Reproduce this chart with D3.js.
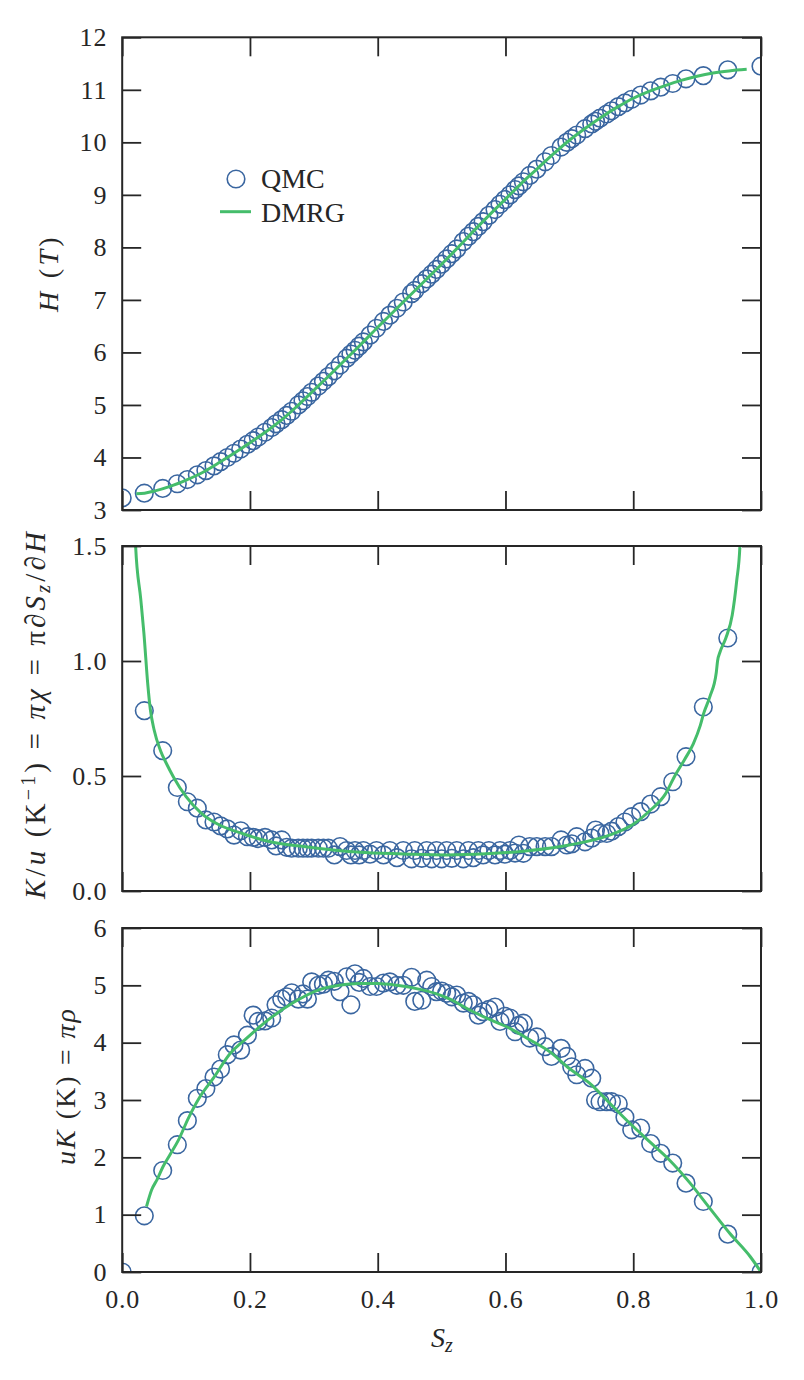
<!DOCTYPE html>
<html><head><meta charset="utf-8">
<script src="https://cdnjs.cloudflare.com/ajax/libs/d3/7.8.5/d3.min.js"></script>
<style>body{margin:0;background:#fff}</style>
</head><body><svg id="c" width="804" height="1380"></svg>
<script>
// ---------- data ----------
const qmcSz = [0,0.0346,0.0634,0.0863,0.102,0.1176,0.131,0.1437,0.154,0.1645,0.175,0.1855,0.196,0.205,0.213,0.2235,0.234,0.2408,0.2497,0.2575,0.2653,0.2757,0.283,0.29,0.2966,0.307,0.315,0.3227,0.332,0.341,0.3514,0.358,0.3644,0.371,0.3775,0.388,0.398,0.409,0.419,0.43,0.44,0.453,0.458,0.469,0.4767,0.4845,0.492,0.5,0.508,0.516,0.5237,0.534,0.542,0.5496,0.5575,0.565,0.574,0.5836,0.5914,0.599,0.607,0.615,0.621,0.628,0.638,0.649,0.662,0.672,0.687,0.696,0.7037,0.7115,0.7245,0.735,0.741,0.748,0.7585,0.766,0.7766,0.787,0.7976,0.8117,0.8273,0.843,0.8618,0.8826,0.9097,0.948,1.0];
const qmcH = [3.23,3.32,3.41,3.50,3.58,3.67,3.75,3.84,3.92,4.00,4.08,4.16,4.25,4.32,4.39,4.48,4.57,4.64,4.72,4.80,4.88,5.00,5.08,5.16,5.24,5.36,5.45,5.54,5.65,5.76,5.89,5.97,6.04,6.12,6.20,6.33,6.46,6.59,6.71,6.84,6.96,7.12,7.18,7.31,7.40,7.49,7.58,7.68,7.78,7.88,7.97,8.11,8.21,8.30,8.40,8.49,8.61,8.72,8.82,8.91,9.00,9.10,9.17,9.25,9.37,9.49,9.63,9.75,9.91,10.00,10.07,10.14,10.26,10.35,10.40,10.46,10.54,10.60,10.68,10.75,10.82,10.90,10.98,11.05,11.12,11.21,11.27,11.38,11.45];
const qmcChi = [null,0.784,0.61,0.45,0.388,0.36,0.309,0.30,0.283,0.27,0.243,0.262,0.236,0.233,0.228,0.233,0.222,0.196,0.222,0.19,0.186,0.186,0.186,0.186,0.186,0.186,0.186,0.186,0.157,0.193,0.176,0.157,0.176,0.157,0.176,0.16,0.176,0.157,0.176,0.145,0.176,0.14,0.176,0.142,0.176,0.14,0.176,0.14,0.176,0.142,0.176,0.14,0.176,0.145,0.176,0.157,0.176,0.157,0.176,0.16,0.176,0.165,0.20,0.164,0.193,0.193,0.193,0.193,0.222,0.20,0.205,0.236,0.214,0.23,0.265,0.25,0.25,0.26,0.28,0.30,0.323,0.345,0.378,0.41,0.475,0.584,0.80,1.10,null];
const qmcUK = [0.0,0.98,1.77,2.22,2.64,3.03,3.20,3.40,3.54,3.79,3.96,3.87,4.13,4.48,4.37,4.38,4.43,4.66,4.76,4.80,4.87,4.76,4.85,4.76,5.06,5.00,5.02,5.09,5.07,4.89,5.15,4.66,5.20,5.05,5.12,4.98,4.98,5.04,5.06,5.00,5.00,5.14,4.72,4.74,5.09,4.98,4.89,4.90,4.86,4.80,4.83,4.69,4.72,4.66,4.48,4.54,4.58,4.62,4.37,4.46,4.43,4.19,4.30,4.34,4.08,4.10,3.93,3.76,3.90,3.76,3.58,3.44,3.55,3.38,3.00,2.97,2.97,2.97,2.93,2.70,2.48,2.51,2.24,2.07,1.90,1.55,1.23,0.66,0.0];

const dmrgHSz = [0.022,0.035,0.05,0.075,0.1,0.125,0.15,0.175,0.2,0.225,0.25,0.275,0.3,0.325,0.35,0.375,0.4,0.425,0.45,0.475,0.5,0.525,0.55,0.575,0.6,0.625,0.65,0.675,0.7,0.725,0.75,0.775,0.8,0.825,0.85,0.875,0.9,0.925,0.95,0.9776];
const dmrgH = [3.31,3.32,3.36,3.45,3.57,3.71,3.89,4.08,4.28,4.49,4.72,4.99,5.28,5.57,5.87,6.17,6.48,6.78,7.08,7.38,7.68,7.99,8.31,8.62,8.92,9.22,9.50,9.78,10.04,10.27,10.48,10.67,10.84,10.97,11.08,11.18,11.26,11.32,11.36,11.39];

const dmrgChiSz = [0.018,0.021,0.029,0.034,0.04,0.044,0.05,0.06,0.07,0.08,0.1,0.124,0.15,0.188,0.23,0.284,0.33,0.38,0.45,0.508,0.57,0.635,0.70,0.763,0.8,0.827,0.85,0.865,0.88,0.894,0.905,0.91,0.92,0.93,0.932,0.936,0.945,0.955,0.962,0.967,0.97];
const dmrgChi = [1.75,1.5,1.27,1.12,0.9,0.79,0.70,0.61,0.55,0.497,0.41,0.338,0.29,0.25,0.215,0.193,0.178,0.167,0.16,0.157,0.162,0.175,0.20,0.243,0.29,0.352,0.42,0.50,0.57,0.64,0.72,0.77,0.845,0.95,1.0,1.04,1.10,1.2,1.35,1.5,1.75];

const dmrgUKSz = [0.038,0.046,0.055,0.064,0.075,0.088,0.1035,0.122,0.1427,0.169,0.195,0.231,0.268,0.31,0.34,0.37,0.40,0.43,0.466,0.49,0.513,0.544,0.576,0.607,0.638,0.6695,0.70,0.732,0.7636,0.795,0.826,0.857,0.889,0.92,0.951,0.983,1.0];
const dmrgUK = [1.14,1.43,1.62,1.84,2.05,2.30,2.68,3.06,3.38,3.81,4.08,4.42,4.70,4.93,5.00,5.03,5.03,5.00,4.93,4.86,4.76,4.57,4.40,4.25,4.05,3.84,3.55,3.29,2.94,2.59,2.27,1.95,1.55,1.11,0.675,0.27,0.0];

const xTicks = [0,0.2,0.4,0.6,0.8,1.0];
const hTicks = [3,4,5,6,7,8,9,10,11,12];
const chiTicks = [0,0.5,1.0,1.5];
const ukTicks = [0,1,2,3,4,5,6];
const legendLabels = ["QMC","DMRG"];

// ---------- drawing ----------
const svg = d3.select("#c");
const FONT = "'Liberation Serif','Times New Roman',serif";
const BLUE = "#3a66a0", GREEN = "#45bd6b", INK = "#262626";
const x = d3.scaleLinear().domain([0,1]).range([122.2,761]);
const L = x.range()[0], R = x.range()[1];

const panels = [
  {id:"p1", y:d3.scaleLinear().domain([3,12]).range([510,37.3]), ticks:hTicks, fmt:d3.format("d"),
   pts:qmcH, lsz:dmrgHSz, lv:dmrgH},
  {id:"p2", y:d3.scaleLinear().domain([0,1.5]).range([891,546]), ticks:chiTicks, fmt:d3.format(".1f"),
   pts:qmcChi, lsz:dmrgChiSz, lv:dmrgChi},
  {id:"p3", y:d3.scaleLinear().domain([0,6]).range([1272,928]), ticks:ukTicks, fmt:d3.format("d"),
   pts:qmcUK, lsz:dmrgUKSz, lv:dmrgUK}
];

const defs = svg.append("defs");
panels.forEach((p,i) => {
  const top = p.y.range()[1], bot = p.y.range()[0];
  defs.append("clipPath").attr("id","clip"+i).append("rect")
    .attr("x",L).attr("y",top).attr("width",R-L).attr("height",bot-top);

  const g = svg.append("g");
  const data = qmcSz.map((s,k)=>({s, v:p.pts[k]})).filter(d=>d.v!==null);
  g.append("g").attr("clip-path","url(#clip"+i+")")
    .selectAll("circle").data(data).join("circle")
    .attr("cx",d=>x(d.s)).attr("cy",d=>p.y(d.v)).attr("r",8.8)
    .attr("fill","none").attr("stroke",BLUE).attr("stroke-width",1.6);

  const line = d3.line().x(d=>x(d[0])).y(d=>p.y(d[1])).curve(d3.curveMonotoneX);
  g.append("path").attr("clip-path","url(#clip"+i+")")
    .datum(p.lsz.map((s,k)=>[s,p.lv[k]]))
    .attr("d",line).attr("fill","none").attr("stroke",GREEN).attr("stroke-width",3)
    .attr("stroke-linejoin","round").attr("stroke-linecap","butt");

  const styleAxis = sel => {
    sel.select(".domain").remove();
    sel.attr("color",INK);
    sel.selectAll(".tick line").attr("stroke-width",1.8);
    sel.selectAll("text").attr("font-family",FONT).attr("font-size",26)
      .attr("letter-spacing",0.8).attr("fill","#262626");
  };
  svg.append("g").attr("transform",`translate(${L},0)`)
    .call(d3.axisLeft(p.y).tickValues(p.ticks).tickFormat(p.fmt).tickSizeInner(-19).tickSizeOuter(0).tickPadding(15))
    .call(styleAxis);
  svg.append("g").attr("transform",`translate(${R},0)`)
    .call(d3.axisRight(p.y).tickValues(p.ticks).tickFormat("").tickSizeInner(-19).tickSizeOuter(0))
    .call(styleAxis);
  svg.append("g").attr("transform",`translate(0,${top})`)
    .call(d3.axisTop(x).tickValues(xTicks).tickFormat("").tickSizeInner(-19).tickSizeOuter(0))
    .call(styleAxis);
  svg.append("g").attr("transform",`translate(0,${bot})`)
    .call(d3.axisBottom(x).tickValues(xTicks).tickFormat(i===2?d3.format(".1f"):"").tickSizeInner(-19).tickSizeOuter(0).tickPadding(18))
    .call(styleAxis);

  svg.append("rect").attr("x",L).attr("y",top).attr("width",R-L).attr("height",bot-top)
    .attr("fill","none").attr("stroke",INK).attr("stroke-width",2);
});

// ---------- labels ----------
function richText(parent, parts, size, target){
  const t = parent.append("text").attr("font-family",FONT).attr("font-size",size)
    .attr("fill","#262626").attr("text-anchor","middle");
  let n = 0;
  parts.forEach(pt=>{
    const ts = t.append("tspan").text(pt.t);
    n += pt.t.length;
    if(pt.i) ts.attr("font-style","italic");
    if(pt.s) ts.attr("font-size",pt.s);
    if(pt.dy) ts.attr("dy",pt.dy);
  });
  if(target){
    const w = t.node().getComputedTextLength();
    if(w < target) t.attr("letter-spacing",((target-w)/n).toFixed(2));
  }
  return t;
}
const yl1 = svg.append("g").attr("transform","translate(58,273) rotate(-90)");
richText(yl1,[{t:"H",i:1},{t:" ("},{t:"T",i:1},{t:")"}],28,78);

const yl2 = svg.append("g").attr("transform","translate(45,714) rotate(-90)");
richText(yl2,[{t:"K",i:1},{t:"/"},{t:"u",i:1},{t:" (K"},{t:"\u22121",s:20,dy:-10},{t:")",dy:10},
  {t:" = "},{t:"\u03c0\u03c7",i:1},{t:" = "},{t:"\u03c0\u2202"},{t:"S",i:1},{t:"z",i:1,s:20,dy:5},
  {t:"/\u2202",dy:-5},{t:"H",i:1}],29,370);

const yl3 = svg.append("g").attr("transform","translate(75,1086) rotate(-90)");
richText(yl3,[{t:"uK",i:1},{t:" (K) = "},{t:"\u03c0\u03c1",i:1}],28,158);

const xl = svg.append("g").attr("transform","translate(442,1347)");
richText(xl,[{t:"S",i:1},{t:"z",i:1,s:20,dy:5}],28,null);

// ---------- legend ----------
const lg = svg.append("g");
lg.append("circle").attr("cx",236).attr("cy",179).attr("r",8.8)
  .attr("fill","none").attr("stroke",BLUE).attr("stroke-width",1.6);
lg.append("line").attr("x1",220).attr("x2",251).attr("y1",211.7).attr("y2",211.7)
  .attr("stroke",GREEN).attr("stroke-width",3);
lg.selectAll("text.lt").data(legendLabels).join("text").attr("class","lt")
  .attr("x",261).attr("y",(d,k)=>[188,221.5][k]).text(d=>d)
  .attr("font-family",FONT).attr("font-size",28).attr("fill","#262626");
</script></body></html>
